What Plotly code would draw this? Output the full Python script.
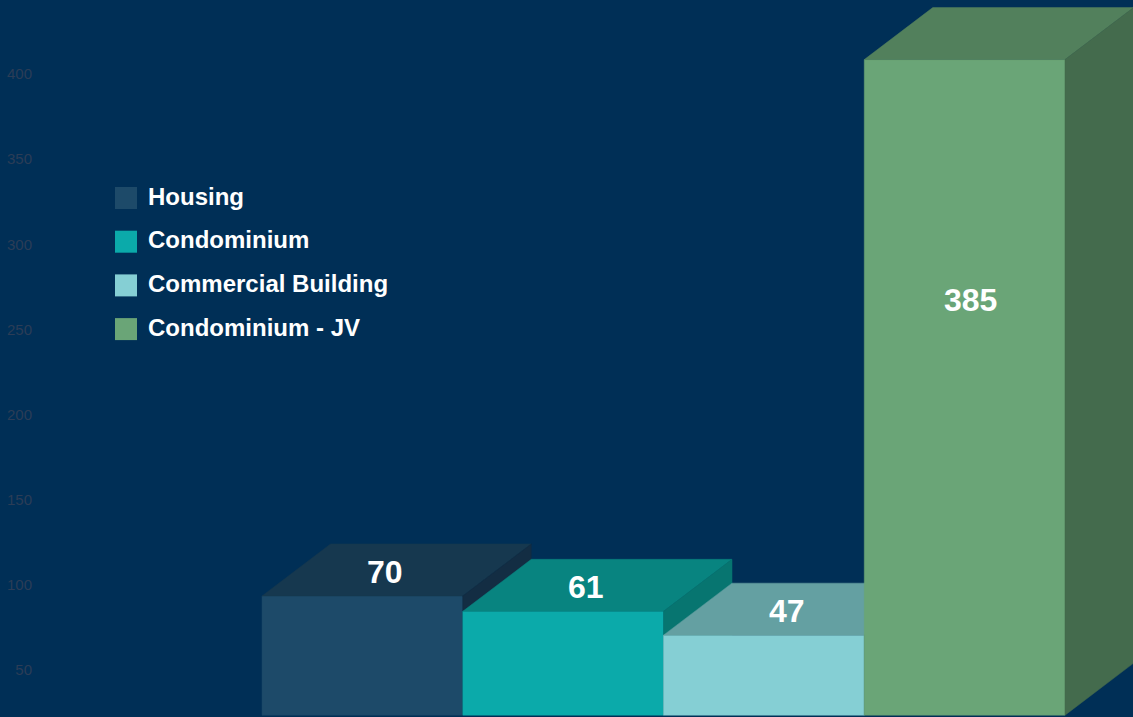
import plotly.graph_objects as go

# ---- data ----
categories = ["Housing", "Condominium", "Commercial Building", "Condominium - JV"]
values = [70, 61, 47, 385]
front_colors = ["#1D4A69", "#0BAAAA", "#85CFD4", "#6AA577"]
top_colors = ["#16384F", "#088480", "#64A0A2", "#52805C"]
side_colors = ["#132D43", "#077570", "#528486", "#446B4D"]
tick_vals = [50, 100, 150, 200, 250, 300, 350, 400]

# ---- layout geometry (styles) ----
W, H = 1133, 717
ML = 33
PW = W - ML
BAR_PX = 200.75          # bar width in pixels (category step)
C0_PX = 362.4            # pixel centre of first bar
X_RANGE = [(ML - C0_PX) / BAR_PX, (W - C0_PX) / BAR_PX]
Y_RANGE = [-1.06, 420.0]
Y2_RANGE = [22.4, 443.5]
PX_PER_Y = H / (Y_RANGE[1] - Y_RANGE[0])
DX = 68.5 / BAR_PX       # depth offset in x data units
DY = 52 / PX_PER_Y       # depth offset in y data units
HW = 0.5
BG = "#002F56"
FONT = "Liberation Sans, Arial, sans-serif"

fig = go.Figure()

def poly(xs, ys, color):
    fig.add_trace(go.Scatter(
        x=xs + [xs[0]], y=ys + [ys[0]], fill="toself", fillcolor=color,
        mode="lines", line=dict(color=color, width=0.5),
        hoverinfo="skip", showlegend=False))

for i, (cat, v) in enumerate(zip(categories, values)):
    # front face
    poly([i - HW, i + HW, i + HW, i - HW], [0, 0, v, v], front_colors[i])
    # top face
    poly([i - HW, i + HW, i + HW + DX, i - HW + DX], [v, v, v + DY, v + DY], top_colors[i])
    # side face
    poly([i + HW, i + HW + DX, i + HW + DX, i + HW], [0, DY, v + DY, v], side_colors[i])

# value labels
for i, v in enumerate(values):
    if v > 200:
        lx, ly = i + 0.03, v * 0.633
    else:
        lx, ly = i + 0.115, v + 14
    fig.add_annotation(x=lx, y=ly, xref="x", yref="y", text=f"<b>{v}</b>",
                       showarrow=False, font=dict(family=FONT, size=32, color="white"),
                       xanchor="center", yanchor="middle")

# invisible trace to drive the tick axis
fig.add_trace(go.Scatter(x=[X_RANGE[0]], y=[tick_vals[0]], yaxis="y2", mode="markers",
                         marker=dict(opacity=0), hoverinfo="skip", showlegend=False))

# custom legend
def px_x(px):
    return (px - ML) / PW

def px_y(py):
    return 1 - py / H

leg_y0 = 198
leg_step = 43.7
for i, cat in enumerate(categories):
    cy = leg_y0 + i * leg_step
    fig.add_shape(type="rect", xref="paper", yref="paper",
                  x0=px_x(115), x1=px_x(137), y0=px_y(cy - 11), y1=px_y(cy + 11),
                  fillcolor=front_colors[i], line=dict(width=0), layer="above")
    fig.add_annotation(xref="paper", yref="paper", x=px_x(146), y=px_y(cy - 2),
                       text=f"<b>{cat}</b>", showarrow=False, xanchor="left", yanchor="middle",
                       font=dict(family=FONT, size=24, color="white"))

fig.update_layout(
    width=W, height=H,
    margin=dict(l=ML, r=0, t=0, b=0, pad=0),
    paper_bgcolor=BG, plot_bgcolor=BG,
    showlegend=False,
    xaxis=dict(range=X_RANGE, visible=False, fixedrange=True),
    yaxis=dict(range=Y_RANGE, visible=False, fixedrange=True),
    yaxis2=dict(range=Y2_RANGE, overlaying="y", side="left", showgrid=False, zeroline=False,
                showline=False, tickvals=tick_vals, ticks="", ticklen=0,
                tickfont=dict(family=FONT, size=15, color="#2B3D57"), automargin=False,
                fixedrange=True),
)

fig.write_html(
    "out.html",
    config={"displayModeBar": False},
    post_script="document.body.style.margin='0';document.body.style.background='" + BG + "';",
)
